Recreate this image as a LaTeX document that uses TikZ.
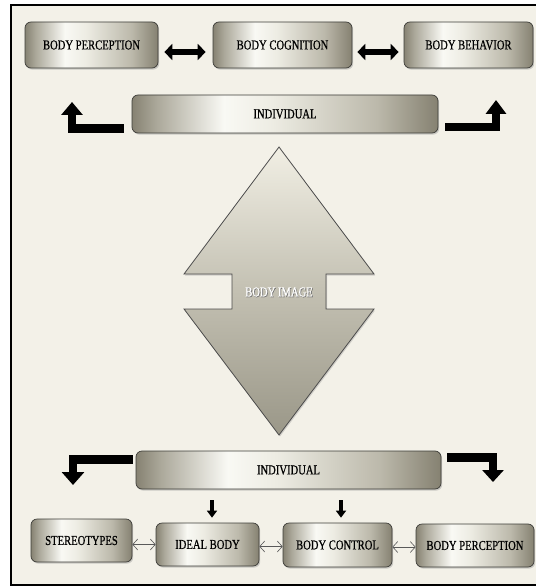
\documentclass[tikz,border=0pt]{standalone}
\usepackage{fontspec}
\setmainfont{Liberation Serif}
\newfontfamily\lblfont[FakeStretch=0.78,FakeBold=0.6]{Liberation Serif}
\usetikzlibrary{arrows.meta,shadows,calc}
\definecolor{bgc}{HTML}{F3F1E8}
\definecolor{mA}{HTML}{868272}
\definecolor{mB}{HTML}{ABA89A}
\definecolor{mC}{HTML}{F9F9F4}
\definecolor{mD}{HTML}{EDECE3}
\definecolor{mE}{HTML}{BCB9AB}
\definecolor{mF}{HTML}{858171}
\definecolor{boxedge}{HTML}{3C3C38}
\definecolor{aTop}{HTML}{F1EFE4}
\definecolor{aMid}{HTML}{C3C0B2}
\definecolor{aBot}{HTML}{9A9788}
\pgfdeclarehorizontalshading{metal}{100bp}{color(0bp)=(mA); color(25bp)=(mA); color(29bp)=(mB); color(40bp)=(mC); color(48bp)=(mD); color(65bp)=(mE); color(75bp)=(mF); color(100bp)=(mF)}
\begin{document}
\begin{tikzpicture}[x=1pt,y=-1pt,
  lbl/.style={font=\lblfont\fontsize{13.6}{15}\selectfont},
  box/.style={draw=boxedge, line width=0.7pt, rounded corners=6pt, shading=metal,
    drop shadow={opacity=0.35, shadow xshift=1.2pt, shadow yshift=-1.6pt},
    text=black, lbl, inner sep=0pt},
  dblk/.style={line width=6pt, black, {Triangle[width=16pt,length=8pt]}-{Triangle[width=16pt,length=8pt]}},
  elbow/.style={line width=8.5pt, black, line join=miter, -{Triangle[width=21pt,length=13pt]}},
  sdown/.style={line width=4pt, black, -{Triangle[width=10pt,length=7pt]}},
  oarr/.style={draw=black!65, line width=0.6pt, {Straight Barb[length=5pt,width=11pt]}-{Straight Barb[length=5pt,width=11pt]}}
]
\useasboundingbox (0,0) rectangle (535,588);
\fill[white] (0,0) rectangle (535,588);
\draw[line width=2pt, fill=bgc] (11,5) rectangle (545,585);

% top row
\node[box, minimum width=133pt, minimum height=46pt] (bp1) at (91.5,45) {BODY PERCEPTION};
\node[box, minimum width=139pt, minimum height=46pt] (bc1) at (282.5,45) {BODY COGNITION};
\node[box, minimum width=129pt, minimum height=46pt] (bb1) at (468.5,45) {BODY BEHAVIOR};
\draw[dblk] ([shift={(6,7)}]bp1.east) -- ([shift={(-7,7)}]bc1.west);
\draw[dblk] ([shift={(5,7)}]bc1.east) -- ([shift={(-5,7)}]bb1.west);

\node[box, minimum width=306pt, minimum height=38pt] (ind1) at (285,114) {INDIVIDUAL};
\coordinate (tl) at (72,102);
\coordinate (tr) at (496,100);
\draw[elbow] ([shift={(-8,14.5)}]ind1.west) -| (tl);
\draw[elbow,-{Triangle[width=20pt,length=14pt]}] ([shift={(7,13)}]ind1.east) -| (tr);

% big double arrow
\path[draw=black!70, line width=0.8pt, top color=aTop, bottom color=aBot, middle color=aMid,
  drop shadow={opacity=0.3, shadow xshift=1pt, shadow yshift=-1.5pt}]
  (279,147) -- (374,274) -- (326,274) -- (326,309) -- (374,309) -- (279,435)
  -- (184,309) -- (232,309) -- (232,274) -- (184,274) -- cycle;
\node[lbl, text=black!55] at (279.7,292.7) {BODY IMAGE};
\node[lbl, text=white] (bi) at (279,292) {BODY IMAGE};

% bottom
\node[box, minimum width=305pt, minimum height=38pt] (ind2) at (288.5,470) {INDIVIDUAL};
\coordinate (bl) at (73,485);
\coordinate (br) at (493,482);
\draw[elbow,-{Triangle[width=22pt,length=13pt]}] ([shift={(-3,-10.5)}]ind2.west) -| (bl);
\draw[elbow,-{Triangle[width=21pt,length=12pt]}] ([shift={(6,-12.5)}]ind2.east) -| (br);

\node[box, minimum width=101pt, minimum height=43pt] (st) at (81.5,540.5) {STEREOTYPES};
\node[box, minimum width=103pt, minimum height=43pt] (ib) at (207.5,544.5) {IDEAL BODY};
\node[box, minimum width=109pt, minimum height=44pt] (bc2) at (337.5,545) {BODY CONTROL};
\node[box, minimum width=118pt, minimum height=43pt] (bp2) at (475,545.5) {BODY PERCEPTION};

\draw[sdown] ($(ib.north |- ind2.south)+(4.5,11)$) -- ($(ib.north)+(4.5,-5)$);
\draw[sdown] ($(bc2.north |- ind2.south)+(3.5,11)$) -- ($(bc2.north)+(3.5,-5)$);

\draw[oarr] (st.east |- ib.west) -- (ib.west);
\draw[oarr] ($(ib.east)+(0,2)$) -- ($(ib.east -| bc2.west)+(0,2)$);
\draw[oarr] ($(bc2.east)+(0,2)$) -- ($(bc2.east -| bp2.west)+(0,2)$);
\end{tikzpicture}
\end{document}
